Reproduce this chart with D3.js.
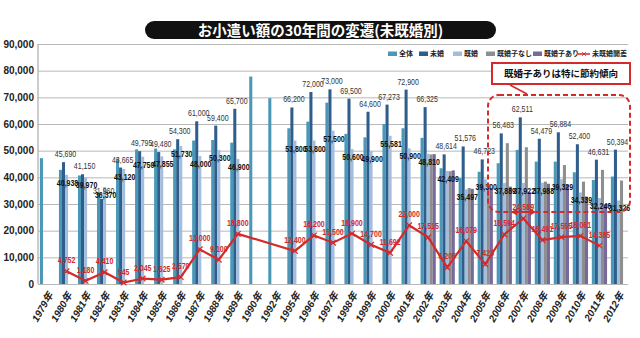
<!DOCTYPE html>
<html>
<head>
<meta charset="utf-8">
<script src="https://cdn.jsdelivr.net/npm/d3@7"></script>
<style>
  body { margin: 0; background: #fff; }
  svg { display: block; font-family: "Liberation Sans", "Noto Sans CJK JP", sans-serif; }
</style>
</head>
<body>
<svg width="640" height="338"></svg>
<script>
// categories
const years = ["1979年","1980年","1981年","1982年","1983年","1984年","1985年","1986年","1987年","1988年","1989年","1990年","1992年","1995年","1996年","1997年","1998年","1999年","2000年","2001年","2002年","2003年","2004年","2005年","2006年","2007年","2008年","2009年","2010年","2011年","2012年"];

// series (yen per month)
const zentai = [47200,42800,40700,34000,47000,50500,50800,50500,53800,54000,53000,77800,69700,58400,60900,68000,56300,55000,60000,58400,54800,43400,39700,42100,45300,50300,45900,45900,41900,39000,40300];
const mikon  = [null,45690,41150,31960,43665,49795,49480,54300,61000,59400,65700,null,null,66200,72000,73000,69500,64600,67273,72900,66325,48614,51576,46723,56483,62511,54479,56884,52400,46631,50394];
const kikon  = [null,40938,39970,36370,43120,47750,47855,51730,48000,50300,46900,null,null,53800,53800,57500,50600,49900,55581,50900,48810,42409,35497,39300,37889,37922,37988,39329,34339,32246,31326];
const kodomoNashi = [null,null,null,null,null,null,null,null,null,null,null,null,null,null,null,null,null,null,null,null,48600,42300,36000,37500,52800,51300,38400,44600,38400,42800,38800];
const kodomoAri   = [null,null,null,null,null,null,null,null,null,null,null,null,null,null,null,null,null,null,null,null,48700,42600,35700,36000,36500,34500,37600,37300,32800,29800,null];
const kaisa = [null,4752,1180,4410,545,2045,1625,2570,13000,9100,18800,null,null,12400,18200,15500,18900,14700,11692,22000,17515,6205,16079,7423,18594,24589,16491,17555,18061,14385,null];

const yTicks = [0,10000,20000,30000,40000,50000,60000,70000,80000,90000];

const seriesNames = ["全体","未婚","既婚","既婚子なし","既婚子あり"];
const seriesValues = [zentai, mikon, kikon, kodomoNashi, kodomoAri];
const colors = ["#4a98b8","#2f5d8c","#a3bddd","#8e8e8e","#77699a"];
const red = "#d42a2a";

const svg = d3.select("svg");
const margin = { top: 44, right: 12, bottom: 54, left: 38 };
const width = +svg.attr("width");
const height = +svg.attr("height");
const innerRight = width - margin.right;
const baseY = height - margin.bottom;

const x0 = d3.scaleBand().domain(years).range([margin.left, innerRight]).paddingInner(0.2).paddingOuter(0.1);
const x1 = d3.scaleBand().domain(seriesNames).range([0, x0.bandwidth()]);
const y = d3.scaleLinear().domain([0, 90000]).range([baseY, margin.top]);
const cx = (yr) => x0(yr) + x0.bandwidth() / 2;

// grid + y labels
const yAxis = svg.append("g")
  .attr("transform", `translate(${margin.left},0)`)
  .call(d3.axisLeft(y).tickValues(yTicks).tickSize(-(innerRight - margin.left)).tickFormat(d3.format(",")));
yAxis.select(".domain").remove();
yAxis.selectAll(".tick line").attr("stroke", "#b8b8b8");
yAxis.selectAll(".tick text")
  .attr("x", -4)
  .attr("font-size", 10)
  .attr("font-weight", "bold")
  .attr("fill", "#222")
  .attr("font-family", "Liberation Sans, sans-serif");
svg.append("line")
  .attr("x1", margin.left).attr("x2", margin.left)
  .attr("y1", margin.top).attr("y2", baseY)
  .attr("stroke", "#999");

// bars
seriesNames.forEach((name, si) => {
  svg.append("g").selectAll("rect")
    .data(years.map((yr, i) => ({ yr, v: seriesValues[si][i] })).filter((d) => d.v != null))
    .enter()
    .append("rect")
    .attr("x", (d) => x0(d.yr) + x1(name))
    .attr("y", (d) => y(d.v))
    .attr("width", x1.bandwidth())
    .attr("height", (d) => baseY - y(d.v))
    .attr("fill", colors[si]);
});

// line 未既婚開差
const lineData = years.map((yr, i) => ({ yr, v: kaisa[i] })).filter((d) => d.v != null);
svg.append("path")
  .datum(lineData)
  .attr("fill", "none")
  .attr("stroke", red)
  .attr("stroke-width", 2.2)
  .attr("d", d3.line().x((d) => cx(d.yr)).y((d) => y(d.v)));
svg.append("g").selectAll("path")
  .data(lineData)
  .enter()
  .append("path")
  .attr("d", d3.symbol(d3.symbolX, 22))
  .attr("transform", (d) => `translate(${cx(d.yr)},${y(d.v)})`)
  .attr("stroke", red)
  .attr("stroke-width", 1.2);

// data labels (narrowed)
const fmt = d3.format(",");
function labels(values, dx, dy, weight, fill) {
  svg.append("g").selectAll("text")
    .data(years.map((yr, i) => ({ yr, v: values[i] })).filter((d) => d.v != null))
    .enter().append("text")
    .attr("transform", (d) => `translate(${cx(d.yr) + dx},${y(d.v) + dy}) scale(0.78,1)`)
    .attr("text-anchor", "middle")
    .attr("font-size", 9)
    .attr("font-weight", weight)
    .attr("fill", fill)
    .text((d) => fmt(d.v));
}
labels(mikon, -1, -5, "normal", "#333");
labels(kikon, 1, 11, "bold", "#111");
labels(kaisa, 0, -8, "bold", red);

// x labels
svg.append("g").selectAll("text")
  .data(years)
  .enter().append("text")
  .attr("transform", (d) => `translate(${cx(d) + 3},${baseY + 9}) rotate(-60)`)
  .attr("text-anchor", "end")
  .attr("dy", "0.35em")
  .attr("font-size", 10)
  .attr("font-weight", "bold")
  .attr("font-style", "italic")
  .attr("fill", "#222")
  .text((d) => d);

// title
svg.append("rect")
  .attr("x", 145).attr("y", 21).attr("width", 351).attr("height", 18)
  .attr("rx", 9).attr("fill", "#111");
svg.append("text")
  .attr("x", 320.5).attr("y", 30.5)
  .attr("dy", "0.35em")
  .attr("text-anchor", "middle")
  .attr("font-family", "Noto Sans CJK JP")
  .attr("font-weight", "bold")
  .attr("font-size", 14.5)
  .attr("fill", "#fff")
  .text("お小遣い額の30年間の変遷(未既婚別)");

// legend
const legendX = [388, 419, 453, 486, 533];
const legend = svg.append("g").attr("font-family", "Noto Sans CJK JP").attr("font-size", 7).attr("font-weight", "bold");
seriesNames.forEach((name, i) => {
  legend.append("rect").attr("x", legendX[i]).attr("y", 51.5).attr("width", 9).attr("height", 4.5).attr("fill", colors[i]);
  legend.append("text").attr("x", legendX[i] + 11).attr("y", 54).attr("dy", "0.35em").attr("fill", "#222").text(name);
});
legend.append("line").attr("x1", 578).attr("x2", 590).attr("y1", 54).attr("y2", 54).attr("stroke", red).attr("stroke-width", 1.5);
legend.append("path").attr("d", d3.symbol(d3.symbolX, 10)).attr("transform", "translate(584,54)").attr("stroke", red);
legend.append("text").attr("x", 592).attr("y", 54).attr("dy", "0.35em").attr("fill", "#222").text("未既婚開差");

// annotation
const note = svg.append("g");
note.append("rect")
  .attr("x", 488).attr("y", 95).attr("width", 142).attr("height", 117)
  .attr("rx", 11).attr("fill", "none")
  .attr("stroke", red).attr("stroke-width", 2).attr("stroke-dasharray", "5,3");
note.append("line")
  .attr("x1", 510).attr("y1", 85).attr("x2", 527).attr("y2", 94)
  .attr("stroke", red).attr("stroke-width", 1.5);
note.append("rect")
  .attr("x", 492).attr("y", 63).attr("width", 138).attr("height", 21)
  .attr("fill", "#fff").attr("stroke", red).attr("stroke-width", 2);
note.append("text")
  .attr("x", 561).attr("y", 73.5).attr("dy", "0.35em")
  .attr("text-anchor", "middle")
  .attr("font-family", "Noto Sans CJK JP")
  .attr("font-weight", "bold").attr("font-size", 9.5)
  .attr("fill", "#111")
  .text("既婚子ありは特に節約傾向");
note.append("line")
  .attr("x1", 515).attr("x2", 532).attr("y1", 212).attr("y2", 212)
  .attr("stroke", red).attr("stroke-width", 2);
note.append("path").attr("d", "M511,212 L517,208.5 L517,215.5 Z").attr("fill", red);
note.append("path").attr("d", "M536,212 L530,208.5 L530,215.5 Z").attr("fill", red);
</script>
</body>
</html>
